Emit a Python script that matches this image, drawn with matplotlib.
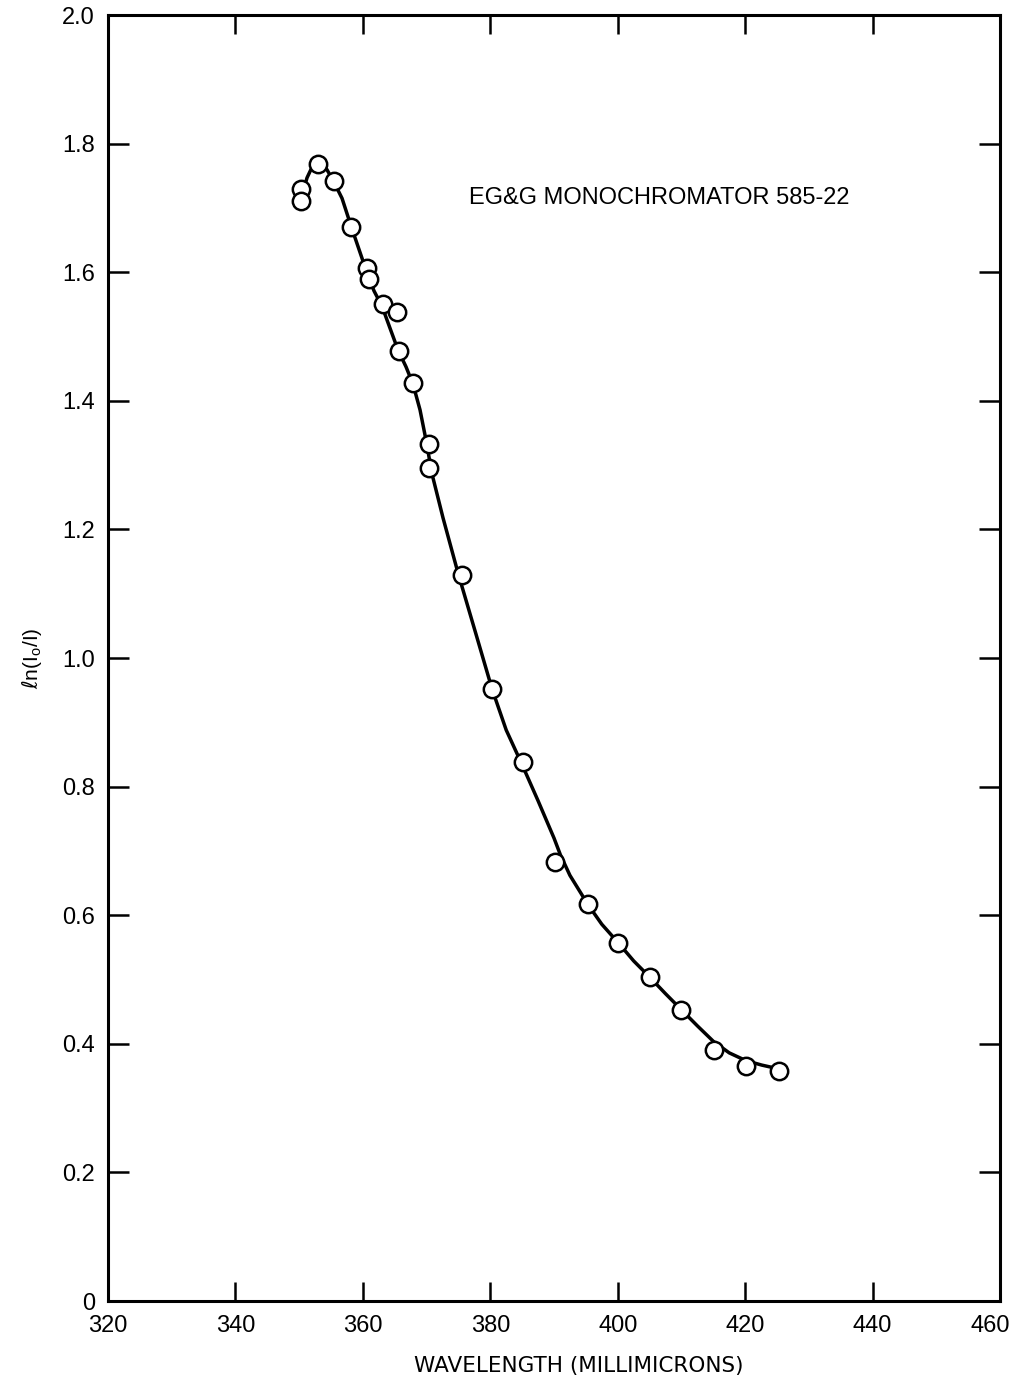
import matplotlib
matplotlib.use('Agg')
import matplotlib.pyplot as plt
import matplotlib.transforms as mtransforms

plt.rcParams['font.family'] = ['Liberation Sans', 'DejaVu Sans']

# measured points (wavelength, ln(Io/I))
wl_pts = [350.3, 350.3, 353.0, 355.5, 358.2, 360.7, 360.9, 363.1, 365.3, 365.6,
          367.9, 370.4, 370.4, 375.5, 380.3, 385.1, 390.2, 395.3, 400.1, 405.0,
          410.0, 415.1, 420.1, 425.3]
ln_pts = [1.729, 1.711, 1.768, 1.742, 1.670, 1.607, 1.589, 1.551, 1.538, 1.477,
          1.428, 1.333, 1.295, 1.129, 0.952, 0.838, 0.683, 0.617, 0.557, 0.504,
          0.453, 0.390, 0.365, 0.358]

# hand drawn curve
wl_curve = [350.76, 351.24, 351.86, 352.65, 353.28, 354.22, 355.32, 356.73, 358.14, 359.55,
            360.65, 361.75, 363.01, 364.26, 365.52, 366.77, 367.87, 368.97, 369.91, 370.86,
            372.58, 374.94, 377.76, 380.27, 382.5, 385.0, 387.5, 390.0, 391.0, 392.5,
            395.3, 397.5, 400.1, 402.5, 405.0, 407.5, 410.0, 412.5, 415.0, 417.5,
            420.1, 422.6, 425.3]
ln_curve = [1.731, 1.747, 1.760, 1.768, 1.770, 1.762, 1.743, 1.715, 1.672, 1.631,
            1.599, 1.571, 1.547, 1.513, 1.479, 1.453, 1.426, 1.386, 1.339, 1.286,
            1.218, 1.132, 1.037, 0.952, 0.888, 0.834, 0.778, 0.720, 0.694, 0.662,
            0.617, 0.586, 0.557, 0.529, 0.504, 0.478, 0.453, 0.428, 0.404, 0.386,
            0.374, 0.367, 0.361]

xticks = [320, 340, 360, 380, 400, 420, 440, 460]
yticks = [0, 0.2, 0.4, 0.6, 0.8, 1.0, 1.2, 1.4, 1.6, 1.8, 2.0]
ytick_labels = ['0', '0.2', '0.4', '0.6', '0.8', '1.0', '1.2', '1.4', '1.6', '1.8', '2.0']

fig = plt.figure(figsize=(10.17, 13.8), dpi=100)
ax = fig.add_axes([0.1062, 0.0572, 0.8771, 0.9319])

ax.plot(wl_curve, ln_curve, color='black', linewidth=2.5, zorder=2,
        solid_joinstyle='round', solid_capstyle='round')
ax.plot(wl_pts, ln_pts, linestyle='none', marker='o', markersize=12.5,
        markerfacecolor='white', markeredgecolor='black', markeredgewidth=1.8, zorder=3)

ax.set_xlim(320, 460)
ax.set_ylim(0, 2.0)
ax.set_xticks(xticks)
ax.set_xticklabels([str(t) for t in xticks])
ax.set_yticks(yticks)
ax.set_yticklabels(ytick_labels)

ax.tick_params(axis='both', direction='in', width=1.8, labelsize=17, colors='black')
ax.tick_params(axis='x', length=14, top=True, pad=10)
ax.tick_params(axis='y', length=15, right=True, pad=9.5)
for s in ax.spines.values():
    s.set_linewidth(2.2)

# last x label sits a little to the left of its tick in the original
last = ax.get_xticklabels()[-1]
last.set_transform(last.get_transform() + mtransforms.ScaledTranslation(-10 / 100, 0, fig.dpi_scale_trans))

ax.set_xlabel('WAVELENGTH (MILLIMICRONS)', fontsize=15.5, family='DejaVu Sans')
ax.xaxis.set_label_coords(0.528, -0.043)
ax.set_ylabel(r'$\ell$n(I$_\mathregular{o}$/I)', fontsize=15)
ax.yaxis.set_label_coords(-0.072, 0.5)

ax.text(376.7, 1.715, 'EG&G MONOCHROMATOR 585-22', fontsize=17, va='center', ha='left')

plt.savefig('out.png', dpi=100)
